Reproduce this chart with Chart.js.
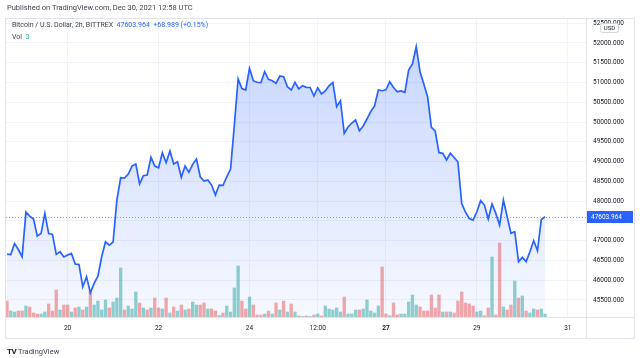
<!DOCTYPE html>
<html>
<head>
<meta charset="utf-8">
<script src="https://cdn.jsdelivr.net/npm/chart.js@4.4.1/dist/chart.umd.min.js"></script>
<style>
body { margin: 0; background: #fff; font-family: Roboto, sans-serif; }
#contenedor { position: relative; width: 640px; height: 358px; overflow: hidden; }
#btcCanvas { position: absolute; left: 0; top: 0; }
.texto { position: absolute; white-space: nowrap; color: #131722; line-height: 1; }
</style>
</head>
<body>
<div id="contenedor">
    <canvas id="btcCanvas" width="640" height="358"></canvas>
    <div class="texto" style="left:7px;top:4px;font-size:7.5px;color:#434651">Published on TradingView.com, Dec 30, 2021 12:58 UTC</div>
    <div class="texto" style="left:12px;top:22px;font-size:7px;color:#434651">Bitcoin / U.S. Dollar, 2h, BITTREX <span style="color:#2962ff">&nbsp;47603.964 &nbsp;+68.989 (+0.15%)</span></div>
    <div class="texto" style="left:12px;top:34px;font-size:7px;color:#434651">Vol &nbsp;<span style="color:#26a69a">3</span></div>
    <div class="texto" style="left:7px;top:348px;font-size:7.5px;color:#131722"><b style="font-size:8px;letter-spacing:-0.5px">TV</b> <span style="color:#434651">TradingView</span></div>
</div>

<script>
// Precio de cierre BTC/USD cada 2 horas (18 dic 16:00 -> 30 dic 12:00)
const precios = [
    46662, 46650, 46927, 46776, 46593, 47724, 47623, 47547, 47117, 47185,
    47691, 47180, 47160, 46654, 46720, 46590, 46636, 46679, 46409, 46400,
    45834, 46087, 45683, 45920, 46105, 46600, 46973, 46889, 46965, 48028,
    48592, 48580, 48686, 48888, 48939, 48433, 48643, 48660, 49108, 48888,
    48845, 49225, 48972, 49268, 48939, 48997, 48602, 48888, 48729, 48931,
    49065, 48617, 48509, 48534, 48407, 48154, 48407, 48400, 48617, 48812,
    49925, 51089, 50849, 50811, 51360, 51046, 51006, 50996, 51274, 51082,
    51046, 50980, 51165, 51147, 50894, 50811, 51006, 50836, 50920, 50879,
    50875, 50659, 50869, 50710, 50786, 50920, 50996, 50388, 50540, 49715,
    49875, 49976, 50052, 49781, 49900, 50077, 50267, 50406, 50811, 50793,
    50815, 51021, 50874, 50768, 50786, 50753, 51317, 51469, 51906, 51274,
    50963, 50634, 49867, 49774, 49225, 49209, 49040, 49210, 49103, 48989,
    47939, 47724, 47560, 47522, 47732, 48010, 47901, 47547, 47927, 47691,
    47395, 48028, 47605, 47185, 47226, 46467, 46578, 46470, 46720, 46998,
    46745, 47535, 47603.964
];

// Volumen por vela
const volumenes = [
    16, 6, 5, 6, 6, 11, 10, 4, 3, 3,
    5, 13, 6, 27, 7, 12, 12, 5, 9, 10,
    7, 10, 26, 12, 16, 7, 17, 9, 15, 19,
    49, 7, 11, 8, 25, 14, 9, 7, 9, 19,
    9, 8, 19, 4, 10, 6, 12, 7, 8, 15,
    12, 12, 14, 8, 8, 6, 1.5, 4, 11, 5,
    29, 51, 16, 8, 20, 12, 2, 2, 3, 6,
    3, 14, 7, 16, 5, 13, 5, 1, 0.5, 1,
    0.5, 2, 3, 1, 11, 8, 7, 9, 5, 20,
    3, 3, 7, 7, 8, 17, 6, 4, 11, 50,
    3, 1.3, 14, 2, 3, 3, 15, 22, 12, 10,
    6, 6, 22, 9, 22, 5, 5, 5, 4, 16,
    25, 14, 13, 11, 5, 6, 1.3, 9, 60, 2,
    74, 10, 7, 12, 36, 19, 21, 6, 4, 8,
    7, 8, 3
];

// Vela alcista (u) o bajista (d)
const direcciones = [
    'd','u','u','d','d','u','d','d','d','u',
    'u','d','d','d','u','d','d','u','d','u',
    'd','u','d','u','u','u','u','d','u','u',
    'u','d','u','u','u','d','u','d','u','d',
    'd','u','d','u','d','u','d','u','d','u',
    'u','d','d','u','d','d','u','d','u','u',
    'u','u','d','d','u','d','d','d','u','d',
    'u','d','u','d','u','d','u','d','u','d',
    'u','d','u','d','u','u','u','u','u','d',
    'u','u','u','d','u','u','u','u','u','d',
    'd','u','d','d','u','u','u','u','u','d',
    'd','d','d','d','d','u','d','u','d','d',
    'd','d','d','d','u','u','d','d','u','d',
    'd','u','d','d','u','d','u','d','u','u',
    'd','u','u'
];

// Etiquetas del eje de tiempo (posicion = numero de vela)
const posicionesEtiquetas = [16, 40, 64, 82, 100, 124, 148];
const etiquetasTiempo = ['20', '22', '24', '12:00', '27', '29', '31'];

// Etiquetas del eje de precio
const ticksPrecio = [45500, 46000, 46500, 47000, 47500, 48000, 48500, 49000,
                     49500, 50000, 50500, 51000, 51500, 52000, 52500];

const ultimoPrecio = precios[precios.length - 1];
const colorLinea = '#2962ff';
const colorMarco = '#e0e3eb';

const marcoTradingView = {
    id: 'marcoTradingView',
    afterDatasetsDraw(chart) {
        const c = chart.ctx;
        const area = chart.chartArea;
        const py = Math.round(chart.scales.y.getPixelForValue(ultimoPrecio)) + 0.5;
        // linea punteada del ultimo precio
        c.save();
        c.strokeStyle = 'rgba(41, 98, 255, 0.6)';
        c.lineWidth = 1;
        c.setLineDash([1, 2]);
        c.beginPath();
        c.moveTo(area.left, py);
        c.lineTo(area.right, py);
        c.stroke();
        c.restore();
    },
    afterDraw(chart) {
        const c = chart.ctx;
        const area = chart.chartArea;
        c.save();
        // marco del grafico
        c.strokeStyle = colorMarco;
        c.lineWidth = 1;
        c.beginPath();
        c.moveTo(5, 18.5); c.lineTo(635, 18.5);
        c.moveTo(5.5, 18); c.lineTo(5.5, 338);
        c.moveTo(5, 338.5); c.lineTo(635, 338.5);
        c.moveTo(634.5, 18); c.lineTo(634.5, 338);
        c.moveTo(5, area.bottom + 0.5); c.lineTo(635, area.bottom + 0.5);
        c.moveTo(area.right + 0.5, 18); c.lineTo(area.right + 0.5, 338);
        c.stroke();

        // etiqueta del ultimo precio
        const py = Math.round(chart.scales.y.getPixelForValue(ultimoPrecio));
        c.fillStyle = colorLinea;
        c.fillRect(area.right + 1, py - 6, 46, 12);
        c.fillStyle = '#ffffff';
        c.font = '6.5px Roboto';
        c.textBaseline = 'middle';
        c.textAlign = 'left';
        c.fillText(ultimoPrecio.toFixed(3), area.right + 5, py + 0.5);

        // caja USD
        c.fillStyle = '#ffffff';
        c.strokeStyle = '#d1d4dc';
        c.beginPath();
        c.roundRect(600.5, 23.5, 18, 9, 2);
        c.fill();
        c.stroke();
        c.fillStyle = '#131722';
        c.font = '6px Roboto';
        c.textAlign = 'center';
        c.fillText('USD', 609.5, 28.5);
        c.restore();
    }
};

function crearGraficoBTC() {
    const ctx = document.getElementById('btcCanvas').getContext('2d');

    const datosLinea = precios.map((p, i) => ({ x: i, y: p }));
    const datosVolumen = volumenes.map((v, i) => ({ x: i, y: v }));
    const coloresVolumen = direcciones.map(d =>
        d === 'u' ? 'rgba(38, 166, 154, 0.5)' : 'rgba(239, 83, 80, 0.5)');

    return new Chart(ctx, {
        data: {
            datasets: [{
                type: 'line',
                data: datosLinea,
                borderColor: colorLinea,
                borderWidth: 1.7,
                pointRadius: 0,
                tension: 0,
                fill: 'start',
                yAxisID: 'y',
                order: 0,
                backgroundColor: function (context) {
                    const area = context.chart.chartArea;
                    if (!area) return 'rgba(41, 98, 255, 0.15)';
                    const g = context.chart.ctx.createLinearGradient(0, area.top, 0, area.bottom);
                    g.addColorStop(0, 'rgba(41, 98, 255, 0.28)');
                    g.addColorStop(1, 'rgba(41, 98, 255, 0.04)');
                    return g;
                }
            }, {
                type: 'bar',
                data: datosVolumen,
                backgroundColor: coloresVolumen,
                barThickness: 2.7,
                yAxisID: 'yv',
                order: 1
            }]
        },
        options: {
            responsive: false,
            animation: false,
            devicePixelRatio: 1,
            layout: { padding: { left: 6, top: 18, right: 5, bottom: 20 } },
            scales: {
                x: {
                    type: 'linear',
                    offset: false,
                    min: -0.26,
                    max: 152.8,
                    grid: { color: '#f0f3fa', drawTicks: false, offset: false },
                    border: { display: false },
                    afterBuildTicks: axis => {
                        axis.ticks = posicionesEtiquetas.map(v => ({ value: v }));
                    },
                    afterFit: axis => { axis.height = 21; },
                    ticks: {
                        autoSkip: false,
                        maxRotation: 0,
                        padding: 7,
                        color: '#131722',
                        font: function (c) {
                            const negrita = c.tick && c.tick.value === 100;
                            return { family: 'Roboto', size: 6.5, weight: negrita ? 'bold' : 'normal' };
                        },
                        callback: function (valor) {
                            const k = posicionesEtiquetas.indexOf(valor);
                            return k >= 0 ? etiquetasTiempo[k] : '';
                        }
                    }
                },
                y: {
                    position: 'right',
                    min: 45070,
                    max: 52632,
                    grid: { color: '#f0f3fa', drawTicks: false },
                    border: { display: false },
                    afterBuildTicks: axis => {
                        axis.ticks = ticksPrecio.map(v => ({ value: v }));
                    },
                    afterFit: axis => { axis.width = 49; },
                    ticks: {
                        padding: 7,
                        color: '#131722',
                        font: { family: 'Roboto', size: 6.5 },
                        callback: valor => Number(valor).toFixed(3)
                    }
                },
                yv: {
                    display: false,
                    min: 0,
                    max: 299
                }
            },
            plugins: {
                legend: { display: false },
                tooltip: { enabled: false }
            }
        },
        plugins: [marcoTradingView]
    });
}

var graficoBTC = crearGraficoBTC();
</script>
</body>
</html>
